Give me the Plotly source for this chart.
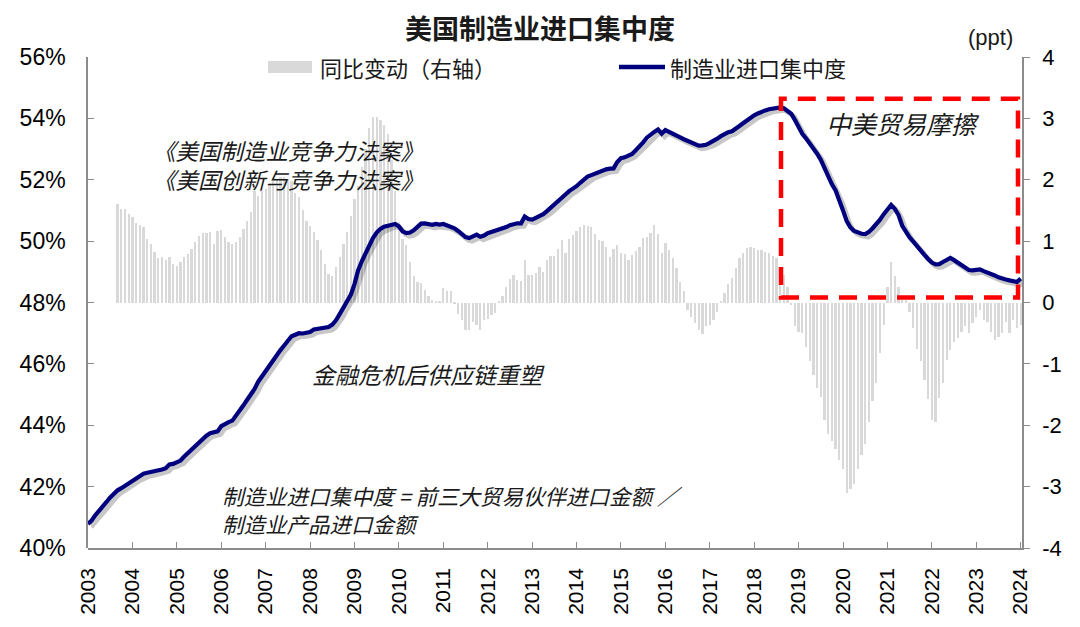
import plotly.graph_objects as go
import pandas as pd

# ---------------- data ----------------
months = pd.date_range("2003-01-01", "2024-01-01", freq="MS")
x_month = [d.year + (d.month - 1) / 12 for d in months]

concentration = [
    40.78, 40.90, 41.07, 41.20, 41.35, 41.50, 41.65, 41.78, 41.88, 41.95, 42.03, 42.12,
    42.20, 42.28, 42.35, 42.42, 42.45, 42.47, 42.49, 42.52, 42.56, 42.60, 42.72, 42.74,
    42.79, 42.85, 42.98, 43.10, 43.22, 43.33, 43.46, 43.58, 43.66, 43.74, 43.76, 43.80,
    43.97, 44.05, 44.10, 44.15, 44.30, 44.45, 44.65, 44.83, 45.00, 45.18, 45.42, 45.60,
    45.74, 45.90, 46.10, 46.27, 46.45, 46.60, 46.77, 46.90, 46.95, 47.00, 46.99, 47.00,
    47.04, 47.12, 47.14, 47.15, 47.18, 47.20, 47.28, 47.42, 47.62, 47.85, 48.05, 48.25,
    48.60, 49.05, 49.35, 49.62, 49.85, 50.10, 50.28, 50.40, 50.47, 50.50, 50.55, 50.56,
    50.48, 50.32, 50.26, 50.28, 50.35, 50.47, 50.57, 50.58, 50.55, 50.53, 50.56, 50.54,
    50.56, 50.52, 50.47, 50.42, 50.33, 50.22, 50.13, 50.10, 50.15, 50.21, 50.14, 50.18,
    50.26, 50.30, 50.33, 50.36, 50.40, 50.46, 50.52, 50.56, 50.58, 50.58, 50.80, 50.72,
    50.70, 50.76, 50.82, 50.88, 50.98, 51.08, 51.20, 51.30, 51.42, 51.52, 51.63, 51.70,
    51.79, 51.90, 52.00, 52.10, 52.15, 52.20, 52.26, 52.30, 52.34, 52.36, 52.37, 52.58,
    52.70, 52.73, 52.78, 52.84, 52.96, 53.08, 53.22, 53.37, 53.48, 53.56, 53.64, 53.50,
    53.62, 53.55, 53.49, 53.44, 53.38, 53.32, 53.26, 53.20, 53.15, 53.11, 53.12, 53.14,
    53.20, 53.26, 53.34, 53.42, 53.50, 53.55, 53.58, 53.65, 53.75, 53.84, 53.94, 54.04,
    54.10, 54.16, 54.22, 54.26, 54.30, 54.33, 54.35, 54.36, 54.33, 54.25, 54.15, 53.95,
    53.69, 53.50, 53.35, 53.20, 53.00, 52.85, 52.65, 52.38, 52.10, 51.85, 51.65, 51.35,
    51.00, 50.65, 50.45, 50.33, 50.28, 50.24, 50.23, 50.30, 50.42, 50.55, 50.70, 50.88,
    51.02, 51.18, 51.05, 50.85, 50.50, 50.28, 50.12, 49.98, 49.82, 49.66, 49.55, 49.42,
    49.30, 49.24, 49.25, 49.32, 49.40, 49.45, 49.38, 49.30, 49.22, 49.15, 49.06, 49.05,
    49.05, 49.08, 49.02, 48.98, 48.94, 48.88, 48.82, 48.77, 48.75, 48.72, 48.70, 48.67,
    48.78,
]

yoy_change = [
    None, None, None, None, None, None, None, None, 1.61, 1.53, 1.52, 1.45,
    1.39, 1.29, 1.26, 1.23, 1.04, 0.96, 0.82, 0.72, 0.74, 0.69, 0.74, 0.63,
    0.60, 0.66, 0.74, 0.79, 0.87, 0.98, 1.09, 1.14, 1.13, 1.15, 0.96, 1.17,
    1.18, 1.06, 0.99, 0.96, 0.98, 1.06, 1.20, 1.33, 1.47, 1.82, 1.74, 1.82,
    1.85, 1.92, 1.98, 2.02, 2.05, 2.05, 2.02, 1.98, 1.78, 1.72, 1.50, 1.33,
    1.25, 1.15, 1.02, 0.85, 0.63, 0.47, 0.44, 0.58, 0.74, 0.95, 1.15, 1.41,
    1.68, 1.90, 2.20, 2.50, 2.85, 3.03, 3.02, 2.98, 2.90, 2.75, 2.33, 1.82,
    1.31, 1.04, 0.93, 0.66, 0.44, 0.34, 0.31, 0.20, 0.10, 0.04, 0.02, 0.02,
    0.23, 0.19, 0.19, -0.02, -0.18, -0.29, -0.45, -0.45, -0.31, -0.37, -0.45, -0.28,
    -0.27, -0.20, -0.17, 0.03, 0.10, 0.26, 0.38, 0.45, 0.37, 0.35, 0.69, 0.45,
    0.45, 0.48, 0.58, 0.50, 0.69, 0.75, 0.76, 0.87, 1.02, 0.80, 1.03, 1.10,
    1.17, 1.23, 1.26, 1.25, 1.23, 1.12, 1.02, 1.00, 0.90, 0.74, 0.87, 0.93,
    0.80, 0.79, 0.69, 0.77, 0.84, 0.90, 1.05, 1.07, 1.14, 1.26, 1.12, 0.80,
    0.97, 0.86, 0.72, 0.56, 0.34, 0.18, -0.12, -0.23, -0.34, -0.45, -0.51, -0.39,
    -0.36, -0.28, -0.15, 0.03, 0.15, 0.30, 0.40, 0.56, 0.73, 0.81, 0.88, 0.90,
    0.88, 0.86, 0.85, 0.83, 0.80, 0.76, 0.72, 0.55, 0.45, 0.25, -0.04, -0.38,
    -0.48, -0.50, -0.72, -0.96, -1.18, -1.39, -1.54, -1.91, -2.15, -2.26, -2.39, -2.56,
    -2.72, -3.10, -3.04, -2.96, -2.72, -2.48, -2.31, -1.94, -1.61, -1.31, -0.83, -0.37,
    0.25, 0.66, 0.44, 0.25, 0.08, 0.04, -0.16, -0.42, -0.75, -0.96, -1.26, -1.58,
    -1.91, -1.94, -1.56, -1.31, -0.94, -0.77, -0.64, -0.58, -0.48, -0.39, -0.50, -0.34,
    -0.23, -0.12, -0.29, -0.31, -0.48, -0.61, -0.56, -0.50, -0.31, -0.50, -0.29, -0.42,
    -0.37,
]

year_ticks = list(range(2003, 2025))
year_labels = [str(y) for y in year_ticks]
left_ticks = [40, 42, 44, 46, 48, 50, 52, 54, 56]
left_labels = [f"{v}%" for v in left_ticks]
right_ticks = [-4, -3, -2, -1, 0, 1, 2, 3, 4]
right_labels = [str(v) for v in right_ticks]

# ---------------- layout constants ----------------
PAGE_W, PAGE_H = 1080, 627
OFF = 8                      # default body margin of the html page
W, H = PAGE_W - OFF, PAGE_H - OFF
PLOT_L, PLOT_R, PLOT_T, PLOT_B = 88, 1022, 57, 551   # page pixels of plot area
PW, PH = PLOT_R - PLOT_L, PLOT_B - PLOT_T
ML, MT = PLOT_L - OFF, PLOT_T - OFF
MR, MB = W - ML - PW, H - MT - PH

X_RANGE = [2003, 2024.03]
L_RANGE = [40, 56]
R_RANGE = [-4, 4]
SH = 3  # shadow offset px

px_per_year = PW / (X_RANGE[1] - X_RANGE[0])
px_per_pct = PH / (L_RANGE[1] - L_RANGE[0])

NAVY = "#00007f"
BAR = "#d9d9d9"
AXIS = "#8c8c8c"
TXT = "#1a1a1a"
CN = "Noto Sans CJK SC"
NUM = "Liberation Sans, Arial, Noto Sans CJK SC"


def px(xp):
    return (xp - PLOT_L) / PW


def py(yp):
    return (PLOT_B - yp) / PH


fig = go.Figure()

fig.add_trace(go.Bar(
    x=x_month, y=yoy_change, xaxis="x", yaxis="y",
    marker=dict(color=BAR, line=dict(width=0)),
    width=1 / 12 * 0.62, name="同比变动（右轴）", showlegend=False,
))
fig.add_trace(go.Scatter(
    x=x_month, y=concentration, xaxis="x2", yaxis="y2", mode="lines",
    line=dict(color="rgba(0,0,0,0.22)", width=5), hoverinfo="skip", showlegend=False,
))
fig.add_trace(go.Scatter(
    x=x_month, y=concentration, xaxis="x3", yaxis="y3", mode="lines",
    line=dict(color=NAVY, width=4.2), name="制造业进口集中度", showlegend=False,
))

shapes = [
    dict(type="rect", xref="paper", yref="paper", x0=px(781), x1=px(1018), y0=py(299), y1=py(99),
         line=dict(color="#ff0000", width=4.5, dash="18px,11px"), fillcolor="rgba(0,0,0,0)"),
    dict(type="rect", xref="paper", yref="paper", x0=px(268), x1=px(312), y0=py(73), y1=py(61),
         line=dict(width=0), fillcolor=BAR),
    dict(type="line", xref="paper", yref="paper", x0=px(619), x1=px(665), y0=py(67), y1=py(67),
         line=dict(color=NAVY, width=4.5)),
]


def ann(text, xp, yp, size, xanchor="center", family=CN, color=TXT, align="center"):
    return dict(text=text, xref="paper", yref="paper", x=px(xp), y=py(yp), xanchor=xanchor,
                yanchor="middle", showarrow=False, align=align,
                font=dict(family=family, size=size, color=color))


annotations = [
    ann("<b>美国制造业进口集中度</b>", 540, 27, 27),
    ann("(ppt)", 990, 37, 22, family=NUM),
    ann("同比变动（右轴）", 318, 67, 22, xanchor="left"),
    ann("制造业进口集中度", 668, 67, 22, xanchor="left"),
    ann("<i>《美国制造业竞争力法案》<br>《美国创新与竞争力法案》</i>", 288, 165, 22.5),
    ann("<i>金融危机后供应链重塑</i>", 428, 376, 23),
    ann("<i>制造业进口集中度 = 前三大贸易伙伴进口金额 ／<br>制造业产品进口金额</i>",
        220, 512, 21.5, xanchor="left", align="left"),
    ann("<i>中美贸易摩擦</i>", 903, 123, 25),
]

fig.update_layout(
    width=W, height=H,
    margin=dict(l=ML, r=MR, t=MT, b=MB),
    paper_bgcolor="white", plot_bgcolor="rgba(0,0,0,0)",
    showlegend=False, bargap=0,
    font=dict(family=NUM, color="#000000"),
    xaxis=dict(
        domain=[0, 1], range=X_RANGE, anchor="y",
        tickmode="array", tickvals=year_ticks, ticktext=year_labels, tickangle=-90,
        ticks="inside", ticklen=6, tickcolor=AXIS, tickwidth=1.3,
        showline=True, linecolor=AXIS, linewidth=1.5, showgrid=False, zeroline=False,
        tickfont=dict(family=NUM, size=21, color="#000000"), ticklabelstandoff=10,
    ),
    yaxis=dict(
        domain=[0, 1], range=R_RANGE, anchor="x", side="right",
        tickmode="array", tickvals=right_ticks, ticktext=right_labels,
        ticks="outside", ticklen=6, tickcolor=AXIS, tickwidth=1.3,
        showline=True, linecolor=AXIS, linewidth=1.5, showgrid=False, zeroline=False,
        tickfont=dict(family=NUM, size=22, color="#000000"), ticklabelstandoff=8,
    ),
    xaxis2=dict(
        domain=[SH / PW, 1], range=[X_RANGE[0], X_RANGE[1] - SH / px_per_year],
        anchor="y2", visible=False,
    ),
    yaxis2=dict(
        domain=[0, 1 - SH / PH], range=[L_RANGE[0] + SH / px_per_pct, L_RANGE[1]],
        anchor="x2", visible=False,
    ),
    xaxis3=dict(domain=[0, 1], range=X_RANGE, anchor="y3", visible=False),
    yaxis3=dict(
        domain=[0, 1], range=L_RANGE, anchor="x3", side="left",
        tickmode="array", tickvals=left_ticks, ticktext=left_labels,
        ticks="inside", ticklen=6, tickcolor=AXIS, tickwidth=1.3,
        showline=True, linecolor=AXIS, linewidth=1.5, showgrid=False, zeroline=False,
        tickfont=dict(family=NUM, size=23, color="#000000"), ticklabelstandoff=16,
    ),
    shapes=shapes,
    annotations=annotations,
)

fig.write_html("out.html")
